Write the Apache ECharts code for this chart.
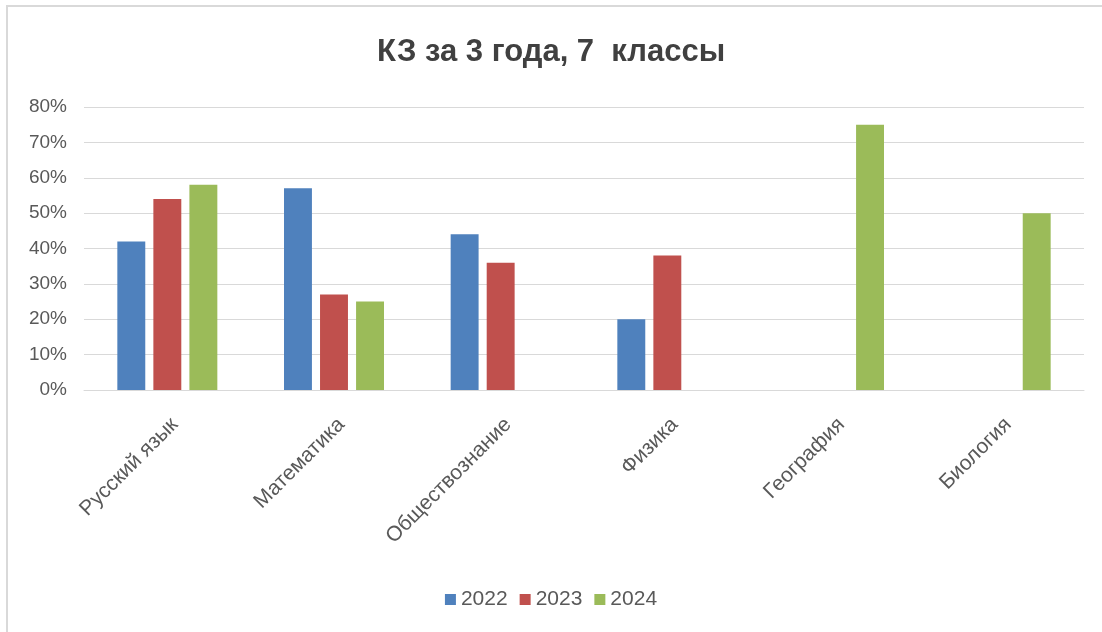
<!DOCTYPE html>
<html>
<head>
<meta charset="utf-8">
<script src="https://cdn.jsdelivr.net/npm/echarts@6/dist/echarts.min.js"></script>
<style>
html,body{margin:0;padding:0;background:#fff;}
#frame{position:absolute;left:6px;top:5px;width:1200px;height:700px;border-left:2px solid #d9d9d9;border-top:2px solid #d9d9d9;}
#chart{position:absolute;left:0;top:0;width:1102px;height:632px;}
</style>
</head>
<body>
<div id="frame"></div>
<div id="chart"></div>
<script>
var titleText = 'КЗ за 3 года, 7  классы';
var categories = ['Русский язык', 'Математика', 'Обществознание', 'Физика', 'География', 'Биология'];
var seriesNames = ['2022', '2023', '2024'];
var values2022 = [0.42, 0.57, 0.44, 0.20, null, null];
var values2023 = [0.54, 0.27, 0.36, 0.38, null, null];
var values2024 = [0.58, 0.25, null, null, 0.75, 0.50];
var yTicks = { min: 0, max: 0.8, interval: 0.1 };

var colors = ['#4f81bd', '#c0504d', '#9bbb59'];
var font = 'Liberation Sans, Arial, sans-serif';
var chart = echarts.init(document.getElementById('chart'));
var seriesData = [values2022, values2023, values2024];
chart.setOption({
  animation: false,
  color: colors,
  title: {
    text: titleText,
    left: 'center',
    top: 32,
    textStyle: { fontFamily: font, fontSize: 31, fontWeight: 'bold', color: '#404040' }
  },
  legend: {
    data: seriesNames,
    top: 584,
    left: 'center',
    icon: 'rect',
    itemWidth: 11,
    itemHeight: 11,
    itemGap: 12,
    textStyle: { fontFamily: font, fontSize: 21, color: '#595959' }
  },
  grid: { left: 84, right: 18, top: 107, bottom: 242, containLabel: false },
  xAxis: {
    type: 'category',
    data: categories,
    axisLine: { lineStyle: { color: '#d9d9d9', width: 1 } },
    axisTick: { show: false },
    axisLabel: { rotate: 45, margin: 24, interval: 0, verticalAlign: 'top', align: 'right', fontFamily: font, fontSize: 21, color: '#595959' }
  },
  yAxis: {
    type: 'value',
    min: yTicks.min,
    max: yTicks.max,
    interval: yTicks.interval,
    axisLine: { show: false },
    axisTick: { show: false },
    splitLine: { lineStyle: { color: '#d9d9d9', width: 1 } },
    axisLabel: {
      margin: 17,
      fontFamily: font,
      fontSize: 19,
      color: '#595959',
      formatter: function (v) { return Math.round(v * 100) + '%'; }
    }
  },
  series: seriesNames.map(function (n, i) {
    return {
      name: n,
      type: 'bar',
      data: seriesData[i],
      barGap: '29%',
      barCategoryGap: '40%'
    };
  })
});
</script>
</body>
</html>
